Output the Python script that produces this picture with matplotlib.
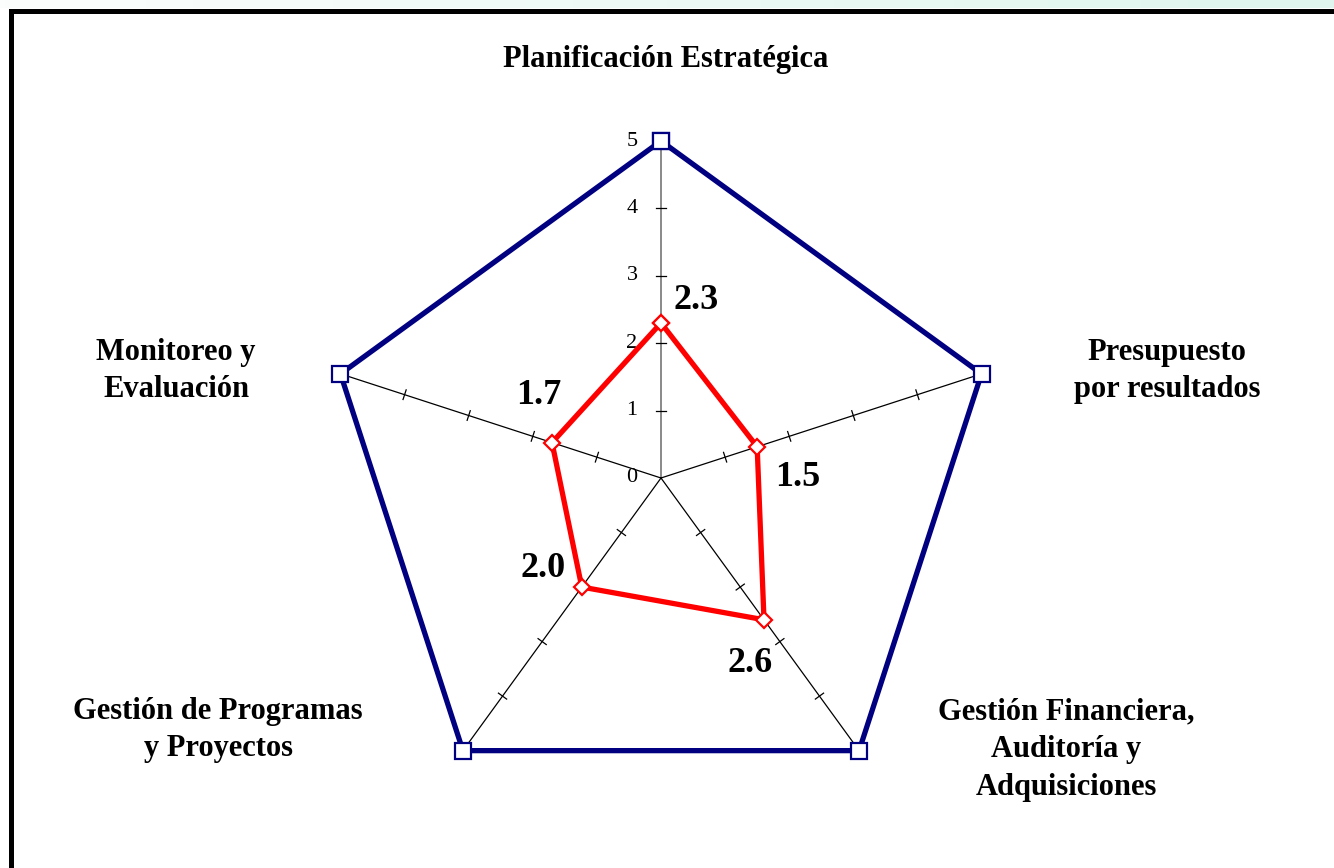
import matplotlib
matplotlib.use("Agg")
import matplotlib.pyplot as plt
import numpy as np
from matplotlib.patches import Rectangle
from matplotlib.colors import LinearSegmentedColormap

# Data
categories = ["Planificación Estratégica", "Presupuesto\npor resultados",
              "Gestión Financiera,\nAuditoría y\nAdquisiciones",
              "Gestión de Programas\ny Proyectos", "Monitoreo y\nEvaluación"]
target = [5, 5, 5, 5, 5]
actual = [2.3, 1.5, 2.6, 2.0, 1.7]
actual_labels = ["2.3", "1.5", "2.6", "2.0", "1.7"]
ticks = [0, 1, 2, 3, 4, 5]

plt.rcParams['font.family'] = ['Liberation Serif', 'DejaVu Serif']

PX = 67.4  # pixels per data unit
W, H = 1334, 868
cx, cy = 661, 478  # chart centre in pixels (from top)

fig = plt.figure(figsize=(W / 100, H / 100), dpi=100)
fig.patch.set_facecolor('white')

# light gradient strip above the frame
strip = fig.add_axes([0, 1 - 8 / H, 1, 8 / H])
grad = np.linspace(0, 1, 256).reshape(1, -1)
gcm = LinearSegmentedColormap.from_list('g', ['#fbfdfc', '#dff5ee'])
strip.imshow(grad, aspect='auto', cmap=gcm, extent=[0, 1, 0, 1])
strip.axis('off')

ax = fig.add_axes([0, 0, 1, 1])
ax.set_xlim(-cx / PX, (W - cx) / PX)
ax.set_ylim(-(H - cy) / PX, cy / PX)
ax.axis('off')

# frame
fig.add_artist(Rectangle((10.5 / W, -0.1), 1.2, (H - 10.5) / H + 0.1, transform=fig.transFigure,
                         fill=False, edgecolor='black', linewidth=3.6, zorder=0))

n = len(categories)
ang = np.pi / 2 - 2 * np.pi * np.arange(n) / n
ux, uy = np.cos(ang), np.sin(ang)

# spokes with tick marks
rmax = ticks[-1]
for i in range(n):
    col = '#808080' if i == 0 else 'black'
    ax.plot([0, rmax * ux[i]], [0, rmax * uy[i]], color=col,
            lw=1.3 if i == 0 else 0.9, zorder=1)
    px_, py_ = -uy[i], ux[i]
    for t in ticks[1:-1]:
        half = 0.075
        ax.plot([t * ux[i] - half * px_, t * ux[i] + half * px_],
                [t * uy[i] - half * py_, t * uy[i] + half * py_],
                color='black', lw=0.9, zorder=1)

# value axis labels
for t in ticks:
    ax.text(-0.43, t, str(t), ha='center', va='center', fontsize=16)

# series
def closed(v, a):
    x = list(np.array(v) * np.cos(a))
    y = list(np.array(v) * np.sin(a))
    return x + x[:1], y + y[:1]

tx, ty = closed(target, ang)
ax.plot(tx, ty, color='#000080', lw=3.8, marker='s', ms=11, mfc='white',
        mec='#000080', mew=1.6, zorder=3)
rx, ry = closed(actual, ang)
ax.plot(rx, ry, color='#ff0000', lw=3.8, marker='D', ms=8, mfc='white',
        mec='#ff0000', mew=1.6, zorder=4)

# data labels
lab_off = [(35, 22), (41, -31), (-14, -44), (-39, 19), (-13, 47)]
for i in range(n):
    ax.annotate(actual_labels[i], (rx[i], ry[i]), xytext=lab_off[i],
                textcoords='offset pixels', ha='center', va='center',
                fontsize=26, fontweight='bold', zorder=5)

# category labels
cat_pos = [(666, 60), (1167, 371), (1066, 750), (218, 730), (176, 371)]
for lab, (x, y) in zip(categories, cat_pos):
    ax.text((x - cx) / PX, (cy - y) / PX, lab, ha='center', va='center',
            fontsize=22, fontweight='bold', linespacing=1.4)

fig.savefig('out.png', dpi=100)
